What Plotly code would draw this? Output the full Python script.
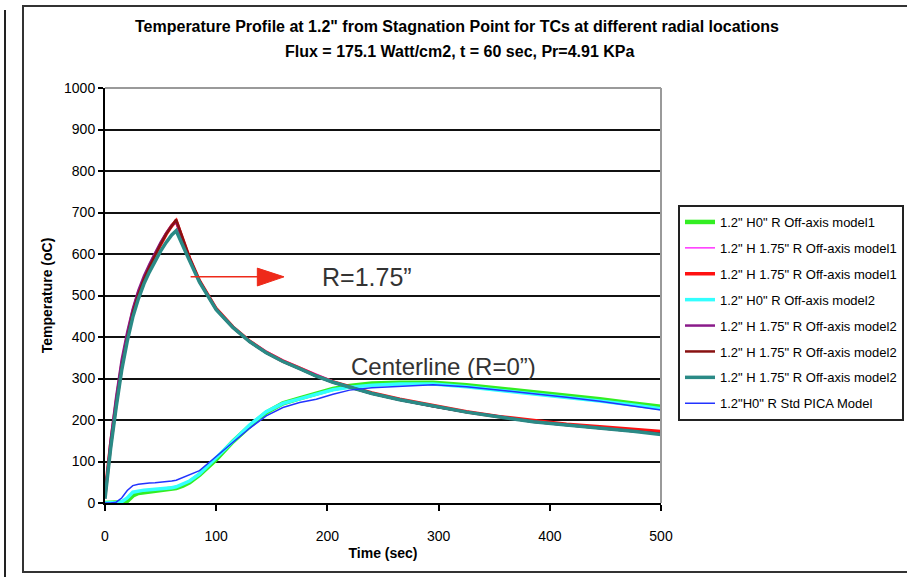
import plotly.graph_objects as go

# Time grid (sec) shared by all thermocouple series
time_s = [0, 5, 10, 15, 20, 25, 30, 35, 40, 45, 50, 55, 60, 64, 70, 76, 85, 100,
          115, 130, 145, 160, 175, 190, 205, 220, 240, 265, 295, 325, 355, 385,
          415, 445, 475, 500]

# Centerline (R=0") temperatures, oC
h0_model1 = [0, 0, 0, 2, 5, 18, 24, 26, 28, 29, 30, 32, 34, 36, 42, 50, 68, 105,
             148, 185, 218, 240, 252, 264, 275, 282, 288, 290, 290, 284, 276, 268,
             258, 250, 240, 232]
h0_model2 = [0, 0, 1, 3, 12, 26, 29, 31, 32, 33, 34, 35, 37, 39, 45, 53, 70, 110,
             150, 188, 220, 240, 251, 262, 273, 279, 284, 287, 287, 280, 272, 263,
             255, 246, 236, 227]
h0_std_pica = [0, 0, 2, 12, 30, 42, 45, 47, 48, 49, 50, 51, 53, 55, 62, 68, 78, 112,
               145, 180, 210, 230, 242, 250, 262, 272, 278, 281, 285, 280, 272, 263,
               255, 245, 234, 224]

# Off-axis (R=1.75") temperatures, oC
r175_model1_a = [20, 142, 244, 334, 404, 462, 507, 542, 572, 600, 626, 648, 668, 678,
                 636, 592, 537, 470, 426, 392, 366, 345, 327, 310, 294, 281, 266, 251,
                 235, 221, 209, 198, 190, 183, 176, 168]
r175_model1_b = [20, 140, 240, 330, 400, 460, 505, 540, 570, 598, 625, 648, 668, 680,
                 635, 590, 535, 468, 424, 390, 363, 342, 325, 307, 292, 280, 265, 250,
                 234, 220, 208, 198, 190, 184, 178, 172]
r175_model2_a = [15, 150, 255, 345, 412, 468, 512, 547, 576, 603, 628, 650, 669, 678,
                 634, 589, 534, 467, 423, 389, 362, 341, 324, 306, 291, 279, 264, 249,
                 233, 219, 207, 196, 188, 181, 174, 167]
r175_model2_b = [18, 138, 238, 328, 398, 458, 503, 539, 569, 597, 624, 648, 669, 683,
                 637, 591, 535, 467, 423, 389, 362, 341, 324, 306, 291, 279, 264, 249,
                 233, 219, 207, 196, 188, 181, 174, 167]
r175_model2_c = [10, 130, 230, 320, 390, 448, 492, 528, 557, 583, 607, 628, 646, 656,
                 622, 584, 532, 466, 423, 389, 362, 341, 324, 306, 291, 279, 264, 249,
                 233, 219, 207, 196, 188, 181, 173, 165]

series_names = [
    '1.2" H0" R Off-axis model1',
    '1.2" H 1.75" R Off-axis model1',
    '1.2" H 1.75" R Off-axis model1',
    '1.2" H0" R Off-axis model2',
    '1.2" H 1.75" R Off-axis model2',
    '1.2" H 1.75" R Off-axis model2',
    '1.2" H 1.75" R Off-axis model2',
    '1.2"H0" R Std PICA Model',
]
series_values = [h0_model1, r175_model1_a, r175_model1_b, h0_model2,
                 r175_model2_a, r175_model2_b, r175_model2_c, h0_std_pica]
series_colors = ["#33ee22", "#ff33ff", "#ff1111", "#33ffff",
                 "#8a1a8a", "#881111", "#2a8a86", "#2233ff"]
series_widths = [4.5, 1.5, 3.5, 3.5, 2.5, 2.5, 3.5, 1.5]

x_ticks = [0, 100, 200, 300, 400, 500]
y_ticks = [0, 100, 200, 300, 400, 500, 600, 700, 800, 900, 1000]

FONT = "Liberation Sans, Arial, sans-serif"

fig = go.Figure()
for i, (name, vals, col, w) in enumerate(zip(series_names, series_values,
                                              series_colors, series_widths)):
    fig.add_trace(go.Scatter(
        x=time_s, y=vals, name=name, mode="lines",
        line=dict(color=col, width=w), legendgroup=f"g{i}",
    ))

# pixel-to-paper helpers for the frame decoration
PX_L, PX_R, PX_T, PX_B = 105, 661, 88, 503
def px_x(px):
    return (px - PX_L) / (PX_R - PX_L)
def px_y(py):
    return (PX_B - py) / (PX_B - PX_T)

shapes = [
    # page rule on the far left
    dict(type="line", xref="paper", yref="paper", x0=px_x(5), x1=px_x(5),
         y0=px_y(10), y1=px_y(580), line=dict(color="#222", width=2)),
    # chart frame
    dict(type="rect", xref="paper", yref="paper", x0=px_x(23), x1=px_x(940),
         y0=px_y(572), y1=px_y(6), line=dict(color="#333", width=2)),
    # grey plot-area border, top and right
    dict(type="line", xref="paper", yref="paper", x0=0, x1=1, y0=1, y1=1,
         line=dict(color="#9a9a9a", width=2), layer="above"),
    dict(type="line", xref="paper", yref="paper", x0=1, x1=1, y0=0, y1=1,
         line=dict(color="#9a9a9a", width=2), layer="above"),
    # red arrow pointing at the R=1.75" label
    dict(type="line", xref="x", yref="y", x0=77, x1=138, y0=545, y1=545,
         line=dict(color="#ee2a1a", width=1.5), layer="above"),
    dict(type="path", xref="x", yref="y",
         path="M 137,566 L 137,523 L 161,545 Z",
         fillcolor="#ee2a1a", line=dict(color="#ee2a1a", width=1), layer="above"),
]

annotations = [
    dict(text='<b>Temperature Profile at 1.2" from Stagnation Point for TCs at different radial locations</b>',
         xref="paper", yref="paper", x=px_x(457), y=px_y(27), showarrow=False,
         font=dict(family=FONT, size=16, color="#000"), xanchor="center", yanchor="middle"),
    dict(text="<b>Flux = 175.1 Watt/cm2, t = 60 sec, Pr=4.91 KPa</b>",
         xref="paper", yref="paper", x=px_x(459), y=px_y(52), showarrow=False,
         font=dict(family=FONT, size=16, color="#000"), xanchor="center", yanchor="middle"),
    dict(text="R=1.75\u201d", xref="x", yref="y", x=193, y=545, showarrow=False,
         font=dict(family=FONT, size=25, color="#333"),
         xanchor="left", yanchor="middle"),
    dict(text="Centerline (R=0\u201d)", xref="x", yref="y", x=219, y=330, showarrow=False,
         font=dict(family=FONT, size=24, color="#333"),
         xanchor="left", yanchor="middle"),
]

fig.update_layout(
    width=907, height=577, autosize=False,
    margin=dict(l=PX_L, r=907 - PX_R, t=PX_T, b=577 - PX_B, autoexpand=False),
    paper_bgcolor="white", plot_bgcolor="white",
    font=dict(family=FONT, color="#000"),
    showlegend=True,
    legend=dict(
        x=px_x(678), y=px_y(205), xanchor="left", yanchor="top",
        bordercolor="#222", borderwidth=2, bgcolor="white",
        font=dict(family=FONT, size=13, color="#000"),
        traceorder="grouped", tracegroupgap=6,
    ),
    xaxis=dict(
        range=[0, 500], tickvals=x_ticks, showgrid=False, zeroline=False,
        showline=True, linecolor="#000", linewidth=2,
        ticks="outside", ticklen=6, tickcolor="#000", tickwidth=1.5,
        tickfont=dict(family=FONT, size=14), ticklabelstandoff=13,
        title=dict(text="<b>Time (sec)</b>", font=dict(family=FONT, size=14), standoff=5),
    ),
    yaxis=dict(
        range=[0, 1000], tickvals=y_ticks, showgrid=True, gridcolor="#111",
        gridwidth=1.5, zeroline=False,
        showline=True, linecolor="#000", linewidth=2,
        ticks="outside", ticklen=5, tickcolor="#000", tickwidth=1.5,
        tickfont=dict(family=FONT, size=14),
        title=dict(text="<b>Temperature (oC)</b>", font=dict(family=FONT, size=14), standoff=8),
    ),
    shapes=shapes,
    annotations=annotations,
)

fig.write_html("out.html")
